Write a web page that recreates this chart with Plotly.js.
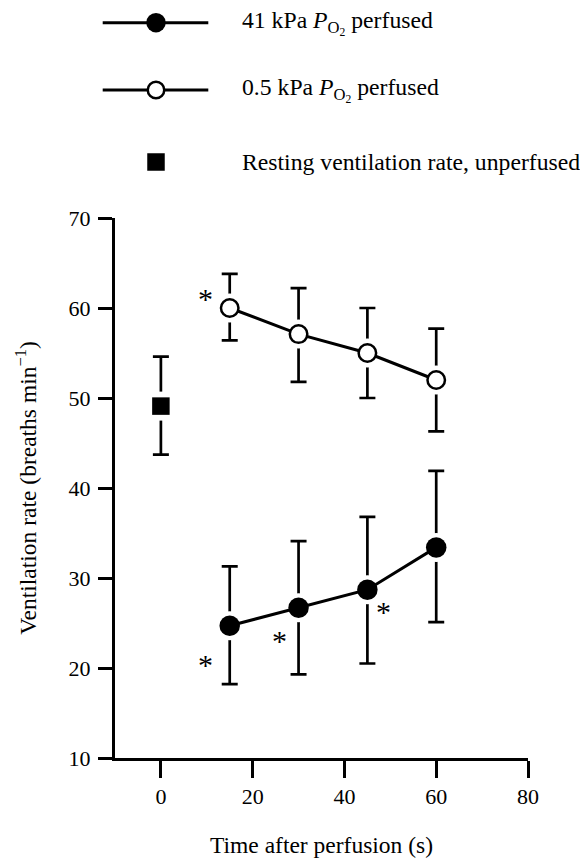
<!DOCTYPE html>
<html>
<head>
<meta charset="utf-8">
<script src="https://cdn.plot.ly/plotly-3.0.1.min.js"></script>
<style>html,body{margin:0;padding:0;background:#fff;}#chart{width:580px;height:858px;}</style>
</head>
<body>
<div id="chart"></div>
<script>
// ---- data ----
const timeS = [15, 30, 45, 60];

const hyperoxicRate = [24.7, 26.7, 28.7, 33.4];      // 41 kPa PO2 perfused
const hyperoxicErrPlus = [6.6, 7.4, 8.1, 8.5];
const hyperoxicErrMinus = [6.5, 7.4, 8.2, 8.3];

const hypoxicRate = [60.0, 57.1, 55.0, 52.0];        // 0.5 kPa PO2 perfused
const hypoxicErrPlus = [3.8, 5.1, 5.0, 5.7];
const hypoxicErrMinus = [3.6, 5.3, 5.0, 5.7];

const restTime = [0];
const restRate = [49.1];                               // resting, unperfused
const restErrPlus = [5.5];
const restErrMinus = [5.4];

const starX = [9.7, 9.7, 25.8, 48.6];
const starY = [61.9, 21.3, 23.9, 27.2];

const xTickVals = [0, 20, 40, 60, 80];
const yTickVals = [10, 20, 30, 40, 50, 60, 70];

const legendLabels = [
  '41 kPa <i>P</i><sub>O<sub>2</sub></sub> perfused',
  '0.5 kPa <i>P</i><sub>O<sub>2</sub></sub> perfused',
  'Resting ventilation rate, unperfused'
];

// ---- styling ----
const FONT = 'Liberation Serif, Times New Roman, serif';
const W = 580, H = 858;
const LW = 3;

function errBars(plus, minus) {
  return {type: 'data', symmetric: false, array: plus, arrayminus: minus,
          color: '#000', thickness: 2.7, width: 8, visible: true};
}
function haloTrace(x, y, plus, minus, symbol, size) {
  return {x: x, y: y, type: 'scatter', mode: 'markers', showlegend: false,
          hoverinfo: 'skip', error_y: errBars(plus, minus),
          marker: {symbol: symbol, size: size, color: '#fff', line: {width: 0}}};
}

const traces = [
  haloTrace(restTime, restRate, restErrPlus, restErrMinus, 'square', 29),
  {x: restTime, y: restRate, type: 'scatter', mode: 'markers', showlegend: false,
   marker: {symbol: 'square', size: 17.5, color: '#000'}},

  haloTrace(timeS, hypoxicRate, hypoxicErrPlus, hypoxicErrMinus, 'circle', 29),
  {x: timeS, y: hypoxicRate, type: 'scatter', mode: 'lines+markers', showlegend: false,
   line: {color: '#000', width: LW},
   marker: {symbol: 'circle', size: 17.5, color: '#fff', line: {color: '#000', width: 2.5}}},

  haloTrace(timeS, hyperoxicRate, hyperoxicErrPlus, hyperoxicErrMinus, 'circle', 29),
  {x: timeS, y: hyperoxicRate, type: 'scatter', mode: 'lines+markers', showlegend: false,
   line: {color: '#000', width: LW},
   marker: {symbol: 'circle', size: 20.5, color: '#000'}}
];

// ---- legend drawn on a pixel-scaled overlay axis pair ----
const legRows = [22.7, 90, 162];
const legLineX = [102.7, 208.3];
const legMarkX = 156;
const legTextX = 240;

traces.push({x: legLineX, y: [legRows[0], legRows[0]], xaxis: 'x2', yaxis: 'y2', type: 'scatter',
  mode: 'lines', line: {color: '#000', width: LW}, showlegend: false, hoverinfo: 'skip'});
traces.push({x: [legMarkX], y: [legRows[0]], xaxis: 'x2', yaxis: 'y2', type: 'scatter',
  mode: 'markers', marker: {symbol: 'circle', size: 19.5, color: '#000'}, showlegend: false, hoverinfo: 'skip'});
traces.push({x: legLineX, y: [legRows[1], legRows[1]], xaxis: 'x2', yaxis: 'y2', type: 'scatter',
  mode: 'lines', line: {color: '#000', width: LW}, showlegend: false, hoverinfo: 'skip'});
traces.push({x: [legMarkX], y: [legRows[1]], xaxis: 'x2', yaxis: 'y2', type: 'scatter',
  mode: 'markers', marker: {symbol: 'circle', size: 16.5, color: '#fff', line: {color: '#000', width: 2.5}},
  showlegend: false, hoverinfo: 'skip'});
traces.push({x: [legMarkX], y: [legRows[2]], xaxis: 'x2', yaxis: 'y2', type: 'scatter',
  mode: 'markers', marker: {symbol: 'square', size: 17.5, color: '#000'}, showlegend: false, hoverinfo: 'skip'});

const annotations = [];
legendLabels.forEach((t, i) => {
  annotations.push({xref: 'x2', yref: 'y2', x: legTextX, y: legRows[i], text: t,
    xanchor: 'left', yanchor: 'middle', showarrow: false,
    font: {family: FONT, size: 23.7, color: '#000'}});
});
starX.forEach((sx, i) => {
  annotations.push({xref: 'x', yref: 'y', x: sx, y: starY[i], text: '*',
    xanchor: 'center', yanchor: 'middle', yshift: -8, showarrow: false,
    font: {family: FONT, size: 30, color: '#000'}});
});

const layout = {
  width: W, height: H,
  margin: {l: 0, r: 0, t: 0, b: 0, pad: 0},
  paper_bgcolor: '#fff', plot_bgcolor: 'rgba(0,0,0,0)',
  font: {family: FONT, size: 22, color: '#000'},
  showlegend: false,
  xaxis: {
    domain: [115 / W, 528 / W], range: [-10, 80], anchor: 'y',
    tickmode: 'array', tickvals: xTickVals, ticktext: xTickVals.map(String),
    ticks: 'outside', ticklen: 17, tickwidth: 3, tickcolor: '#000',
    showline: true, linewidth: LW, linecolor: '#000',
    showgrid: false, zeroline: false, automargin: false,
    tickfont: {family: FONT, size: 22, color: '#000'},
    title: {text: 'Time after perfusion (s)', font: {family: FONT, size: 23.5, color: '#000'}, standoff: 30}
  },
  yaxis: {
    domain: [(H - 758) / H, (H - 218) / H], range: [10, 70], anchor: 'x',
    tickmode: 'array', tickvals: yTickVals, ticktext: yTickVals.map(String),
    ticks: 'outside', ticklen: 14, tickwidth: 3, tickcolor: '#000',
    showline: true, linewidth: LW, linecolor: '#000',
    showgrid: false, zeroline: false, automargin: false,
    ticklabelstandoff: 3,
    tickfont: {family: FONT, size: 22, color: '#000'},
    title: {text: 'Ventilation rate (breaths min<sup>\u22121</sup>)', font: {family: FONT, size: 23.5, color: '#000'}, standoff: 26}
  },
  xaxis2: {domain: [0, 1], range: [0, W], anchor: 'y2', visible: false, fixedrange: true},
  yaxis2: {domain: [0, 1], range: [H, 0], anchor: 'x2', visible: false, fixedrange: true},
  annotations: annotations
};

Plotly.newPlot('chart', traces, layout, {staticPlot: true, displayModeBar: false});
</script>
</body>
</html>
